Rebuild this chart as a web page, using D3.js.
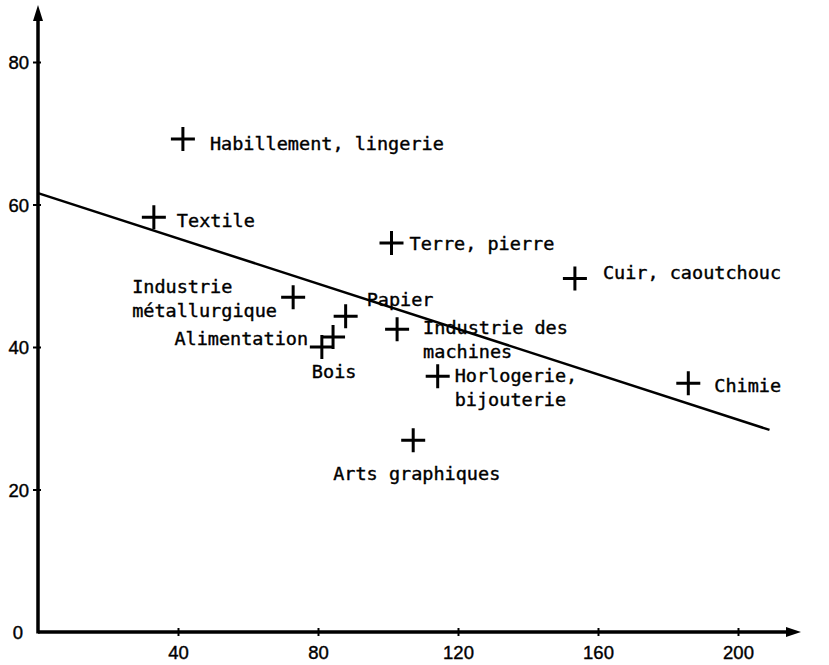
<!DOCTYPE html>
<html lang="fr">
  <head>
    <meta charset="UTF-8" />
    <title>Branches industrielles</title>
  </head>
  <style>
    body {
      margin: 0;
      background: #fff;
    }
    #svg {
      display: block;
      background: #fff;
    }
    .lbl {
      font-family: 'DejaVu Sans Mono', 'Liberation Mono', monospace;
      font-size: 18.5px;
      fill: #000;
      stroke: #000;
      stroke-width: 0.4px;
    }
    .tick text {
      font-family: 'Liberation Sans', Arial, sans-serif;
      font-size: 18.5px;
      fill: #000;
      stroke: #000;
      stroke-width: 0.4px;
    }
  </style>
  <body>
    <svg id="svg" width="829" height="665"></svg>

    <script src="https://d3js.org/d3.v7.min.js"></script>
    <script>
      // data
      const branches = [
        ['Habillement, lingerie'],
        ['Textile'],
        ['Terre, pierre'],
        ['Cuir, caoutchouc'],
        ['Industrie', 'métallurgique'],
        ['Papier'],
        ['Industrie des', 'machines'],
        ['Alimentation'],
        ['Bois'],
        ['Horlogerie,', 'bijouterie'],
        ['Arts graphiques'],
        ['Chimie']
      ];
      const xValues = [41.4, 33.1, 101.0, 153.4, 72.9, 87.9, 102.6, 84.3, 81.1, 114.2, 107.2, 185.8];
      const yValues = [69.2, 58.2, 54.6, 49.6, 47.0, 44.3, 42.5, 41.4, 40.0, 35.9, 26.9, 34.9];
      const xTicks = [40, 80, 120, 160, 200];
      const yTicks = [0, 20, 40, 60, 80];
      const regIntercept = 61.6;
      const regSlope = -0.159;
      const regRange = [0, 209];

      // label placement relative to the cross (px)
      const labelPos = [
        { dx: 27, dy: 11, anchor: 'start' },
        { dx: 23, dy: 10, anchor: 'start' },
        { dx: 18, dy: 7, anchor: 'start' },
        { dx: 28, dy: 0, anchor: 'start' },
        { dx: -161, dy: -4, anchor: 'start' },
        { dx: 21, dy: -10, anchor: 'start' },
        { dx: 26, dy: 5, anchor: 'start' },
        { dx: -25, dy: 8, anchor: 'end' },
        { dx: -10, dy: 31, anchor: 'start' },
        { dx: 17, dy: 6, anchor: 'start' },
        { dx: -80, dy: 40, anchor: 'start' },
        { dx: 26, dy: 9, anchor: 'start' }
      ];

      const svg = d3.select('#svg');
      const x = d3.scaleLinear().domain([0, 200]).range([38, 738]);
      const y = d3.scaleLinear().domain([0, 80]).range([632, 62]);

      // axes
      const xAxis = svg.append('g')
        .attr('transform', `translate(0,${y(0)})`)
        .call(d3.axisBottom(x).tickValues(xTicks).tickSize(0).tickPadding(16));
      xAxis.select('.domain').remove();
      xAxis.selectAll('.tick').append('line')
        .attr('y1', -4).attr('y2', 4)
        .attr('stroke', '#000').attr('stroke-width', 2);

      const yAxis = svg.append('g')
        .attr('transform', `translate(${x(0)},0)`)
        .call(d3.axisLeft(y).tickValues(yTicks).tickSize(0).tickPadding(9));
      yAxis.select('.domain').remove();
      yAxis.selectAll('.tick').filter((d) => d !== 0).append('line')
        .attr('x1', -5).attr('x2', 3)
        .attr('stroke', '#000').attr('stroke-width', 2);
      yAxis.selectAll('.tick text').attr('dy', '0.36em');
      yAxis.selectAll('.tick').filter((d) => d === 0).select('text').attr('x', -15);
      xAxis.selectAll('.tick text').attr('dy', '0.6em');

      // axis lines with arrows
      svg.append('line')
        .attr('x1', x(0)).attr('y1', y(0))
        .attr('x2', 790).attr('y2', y(0))
        .attr('stroke', '#000').attr('stroke-width', 3.5);
      svg.append('path')
        .attr('d', `M801,${y(0)} L786,${y(0) - 5} L786,${y(0) + 5} Z`)
        .attr('fill', '#000');
      svg.append('line')
        .attr('x1', x(0)).attr('y1', y(0) + 1.5)
        .attr('x2', x(0)).attr('y2', 18)
        .attr('stroke', '#000').attr('stroke-width', 3.5);
      svg.append('path')
        .attr('d', `M${x(0)},5 L${x(0) - 5},21 L${x(0) + 5},21 Z`)
        .attr('fill', '#000');

      // regression line
      const line = d3.line().x((d) => x(d)).y((d) => y(regIntercept + regSlope * d));
      svg.append('path')
        .datum(regRange)
        .attr('d', line)
        .attr('fill', 'none')
        .attr('stroke', '#000')
        .attr('stroke-width', 2.5);

      // crosses
      const pts = branches.map((b, i) => ({ name: b, x: xValues[i], y: yValues[i], pos: labelPos[i] }));
      const g = svg.selectAll('g.pt').data(pts).enter().append('g')
        .attr('class', 'pt')
        .attr('transform', (d) => `translate(${x(d.x)},${y(d.y)})`);
      g.append('path')
        .attr('d', 'M-12,0 H12 M0,-12 V12')
        .attr('stroke', '#000')
        .attr('stroke-width', 3);

      const t = g.append('text')
        .attr('class', 'lbl')
        .attr('text-anchor', (d) => d.pos.anchor)
        .attr('x', (d) => d.pos.dx)
        .attr('y', (d) => d.pos.dy);
      t.selectAll('tspan')
        .data((d) => d.name.map((s) => ({ s, dx: d.pos.dx })))
        .enter().append('tspan')
        .attr('x', (d) => d.dx)
        .attr('dy', (d, i) => (i === 0 ? 0 : 24))
        .text((d) => d.s);
    </script>
  </body>
</html>
